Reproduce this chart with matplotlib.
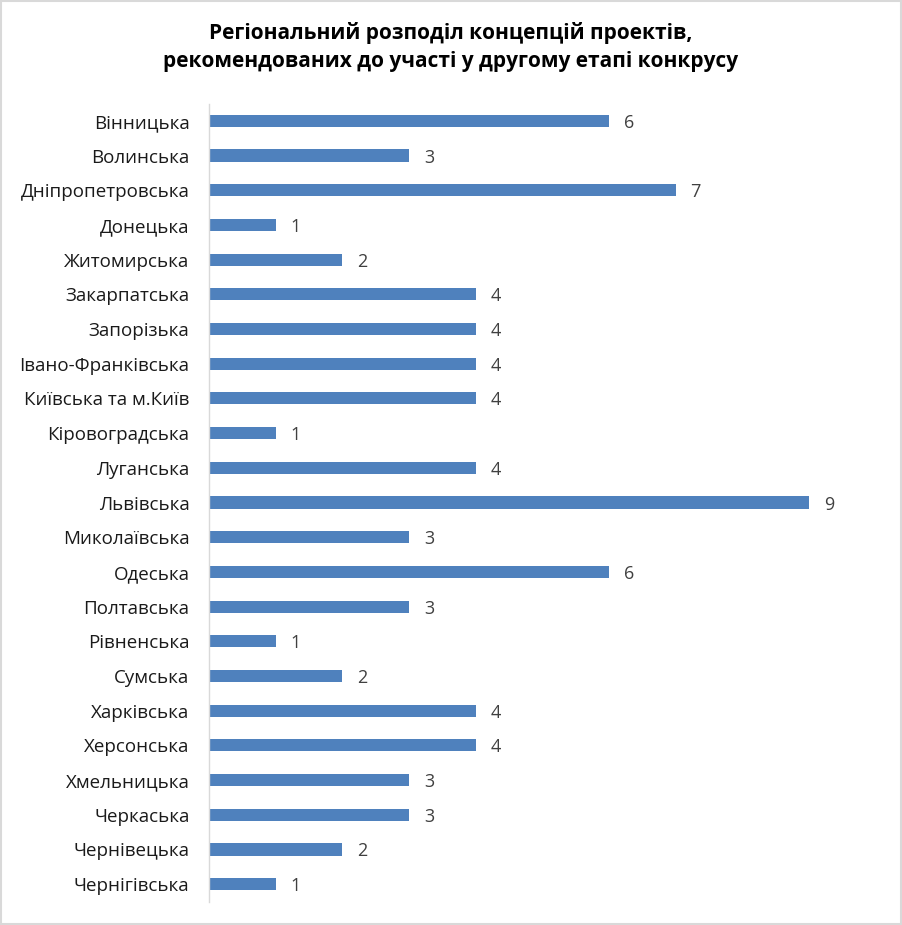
import matplotlib.pyplot as plt
from matplotlib.patches import Rectangle

# data
regions = ['Вінницька', 'Волинська', 'Дніпропетровська', 'Донецька', 'Житомирська',
           'Закарпатська', 'Запорізька', 'Івано-Франківська', 'Київська та м.Київ',
           'Кіровоградська', 'Луганська', 'Львівська', 'Миколаївська', 'Одеська',
           'Полтавська', 'Рівненська', 'Сумська', 'Харківська', 'Херсонська',
           'Хмельницька', 'Черкаська', 'Чернівецька', 'Чернігівська']
counts = [6, 3, 7, 1, 2, 4, 4, 4, 4, 1, 4, 9, 3, 6, 3, 1, 2, 4, 4, 3, 3, 2, 1]
title = 'Регіональний розподіл концепцій проектів,\nрекомендованих до участі у другому етапі конкрусу'

plt.rcParams['font.family'] = ['Open Sans', 'DejaVu Sans']

W, H = 902, 925
fig = plt.figure(figsize=(W / 100, H / 100), dpi=100)
ax = fig.add_axes([209 / W, 1 - 901.5 / H, (876 - 209) / W, (901.5 - 103.5) / H])

pos = list(range(len(regions)))
ax.barh(pos, counts, height=0.35, color='#4f81bd')
for y, v in zip(pos, counts):
    ax.text(v + 0.22, y, str(v), va='center_baseline', ha='left', fontsize=13, color='#404040')

ax.set_xlim(0, 10)
ax.set_ylim(len(regions) - 0.5, -0.5)
ax.set_yticks(pos)
ax.set_yticklabels(regions, fontsize=13.5, color='#1a1a1a')
ax.tick_params(axis='y', length=0, pad=14)
ax.set_xticks([])
for side in ['top', 'right', 'bottom']:
    ax.spines[side].set_visible(False)
ax.spines['left'].set_color('#d9d9d9')
ax.spines['left'].set_linewidth(1)

fig.text(0.5, 1 - 47 / H, title, ha='center', va='center', fontsize=15,
         fontweight='bold', color='#000000', linespacing=1.4)

fig.patches.append(Rectangle((0.001, 0.001), 0.998, 0.998, transform=fig.transFigure,
                             fill=False, edgecolor='#d9d9d9', linewidth=1.5))

fig.savefig('out.png', dpi=100)
